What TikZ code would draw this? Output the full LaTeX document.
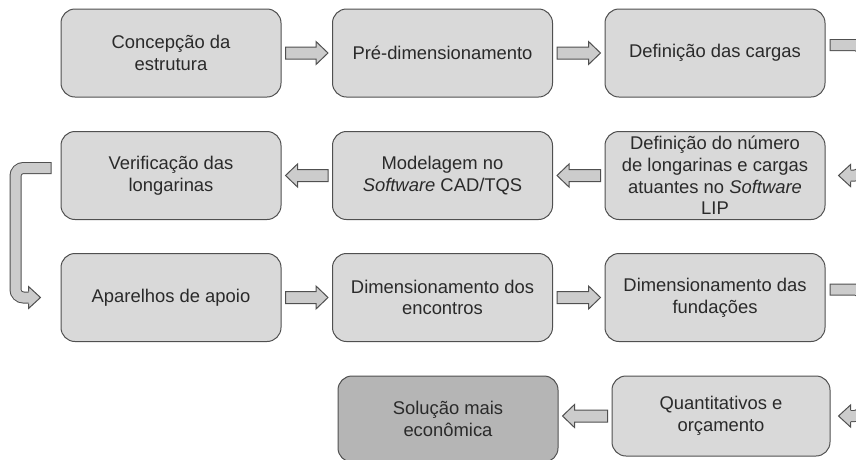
\documentclass[tikz,border=0pt]{standalone}
\usepackage{fontspec}
\setmainfont{Liberation Sans}
\usetikzlibrary{calc}
\definecolor{boxfill}{HTML}{D9D9D9}
\definecolor{darkfill}{HTML}{B5B5B5}
\definecolor{arrowfill}{HTML}{CCCCCC}
\definecolor{edge}{HTML}{505050}
\definecolor{txt}{HTML}{2A2A2A}
\begin{document}
\begin{tikzpicture}[x=1pt,y=-1pt,
  stepbox/.style={draw=edge, fill=boxfill, line width=1pt, rounded corners=14pt,
    minimum width=220pt, minimum height=88pt, align=center, text=txt,
    font=\fontsize{18.4}{21.8}\selectfont, inner sep=0pt},
  blockarrow/.style={draw=edge, fill=arrowfill, line width=1pt, line join=miter,
    to path={let \p1=(\tikztostart),\p2=(\tikztotarget),\n1={ifthenelse(\x2>\x1,1,-1)} in
      ({\x1+\n1*4pt},{\y1+6pt}) -- ({\x2-\n1*16pt},{\y1+6pt}) -- ({\x2-\n1*16pt},{\y1+11.5pt})
      -- ({\x2-\n1*4pt},{\y1}) -- ({\x2-\n1*16pt},{\y1-11.5pt}) -- ({\x2-\n1*16pt},{\y1-6pt})
      -- ({\x1+\n1*4pt},{\y1-6pt}) -- cycle}},
  bentdark/.style={draw=edge, line width=12pt, rounded corners=8pt},
  bentfill/.style={draw=arrowfill, line width=10pt, rounded corners=8pt, shorten <=1pt},
  headfill/.style={fill=arrowfill},
  headline/.style={draw=edge, line width=1pt, line join=miter},
]
\useasboundingbox (0,0) rectangle (856,459);
\clip (0,0) rectangle (856,459);

% row 1
\node[stepbox] (c1) at (171,53) {Concepção da\\estrutura};
\node[stepbox] (c2) at (442.5,53) {Pré-dimensionamento};
\node[stepbox] (c3) at (715,53) {Definição das cargas};
% row 2
\node[stepbox] (v1) at (171,175.5) {Verificação das\\longarinas};
\node[stepbox] (v2) at (442.5,175.5) {Modelagem no\\\textit{Software} CAD/TQS};
\node[stepbox] (v3) at (715,175.5) {Definição do número\\de longarinas e cargas\\atuantes no \textit{Software}\\LIP};
% row 3
\node[stepbox] (a1) at (171,297.5) {Aparelhos de apoio};
\node[stepbox] (a2) at (442.5,297.5) {Dimensionamento dos\\encontros};
\node[stepbox] (a3) at (715,297.5) {Dimensionamento das\\fundações};
% row 4
\node[stepbox, fill=darkfill, minimum height=86pt] (s2) at (448,419) {Solução mais\\econômica};
\node[stepbox, minimum width=218pt, minimum height=80pt] (s3) at (721,416) {Quantitativos e\\orçamento};

% straight block arrows
\draw[blockarrow] (c1.east) to (c2.west);
\draw[blockarrow] (c2.east) to (c3.west);
\draw[blockarrow] (v3.west) to (v2.east);
\draw[blockarrow] (v2.west) to (v1.east);
\draw[blockarrow] (a1.east) to (a2.west);
\draw[blockarrow] (a2.east) to (a3.west);
\draw[blockarrow] (s3.west) to (s2.east);

% left bent arrow: Verificacao -> Aparelhos
\coordinate (lb1) at ($(v1.west)+(-9,-7.5)$);
\coordinate (lb2) at ($(v1.west)+(-45,-7.5)$);
\coordinate (lb3) at ($(a1.west)+(-45,0)$);
\coordinate (lb4) at ($(a1.west)+(-30,0)$);
\draw[bentdark] (lb1) -- (lb2) -- (lb3) -- (lb4);
\draw[bentfill] (lb1) -- (lb2) -- (lb3) -- (lb4);
\coordinate (lht) at ($(a1.west)+(-20,0)$);
\fill[headfill] ($(a1.west)+(-32,-11)$) -- (lht) -- ($(a1.west)+(-32,11)$) -- cycle;
\draw[headline] ($(a1.west)+(-32,-6)$) -- ($(a1.west)+(-32,-11)$) -- (lht) -- ($(a1.west)+(-32,11)$) -- ($(a1.west)+(-32,6)$);

% right bent arrow: Definicao das cargas -> Definicao do numero
\coordinate (rb1) at ($(c3.east)+(4,-8)$);
\coordinate (rb2) at ($(c3.east)+(37,-8)$);
\coordinate (rb3) at ($(v3.east)+(37,0)$);
\coordinate (rb4) at ($(v3.east)+(23,0)$);
\draw[bentdark] (rb1) -- (rb2) -- (rb3) -- (rb4);
\draw[bentfill] (rb1) -- (rb2) -- (rb3) -- (rb4);
\coordinate (rht) at ($(v3.east)+(13,0)$);
\fill[headfill] ($(v3.east)+(25,-11)$) -- (rht) -- ($(v3.east)+(25,11)$) -- cycle;
\draw[headline] ($(v3.east)+(25,-6)$) -- ($(v3.east)+(25,-11)$) -- (rht) -- ($(v3.east)+(25,11)$) -- ($(v3.east)+(25,6)$);

% right bent arrow: Dimensionamento das fundacoes -> Quantitativos
\coordinate (qb1) at ($(a3.east)+(4,-8)$);
\coordinate (qb2) at ($(a3.east)+(37,-8)$);
\coordinate (qb3) at ($(s3.east)+(32,0)$);
\coordinate (qb4) at ($(s3.east)+(18,0)$);
\draw[bentdark] (qb1) -- (qb2) -- (qb3) -- (qb4);
\draw[bentfill] (qb1) -- (qb2) -- (qb3) -- (qb4);
\coordinate (qht) at ($(s3.east)+(8,0)$);
\fill[headfill] ($(s3.east)+(20,-11)$) -- (qht) -- ($(s3.east)+(20,11)$) -- cycle;
\draw[headline] ($(s3.east)+(20,-6)$) -- ($(s3.east)+(20,-11)$) -- (qht) -- ($(s3.east)+(20,11)$) -- ($(s3.east)+(20,6)$);
\end{tikzpicture}
\end{document}
